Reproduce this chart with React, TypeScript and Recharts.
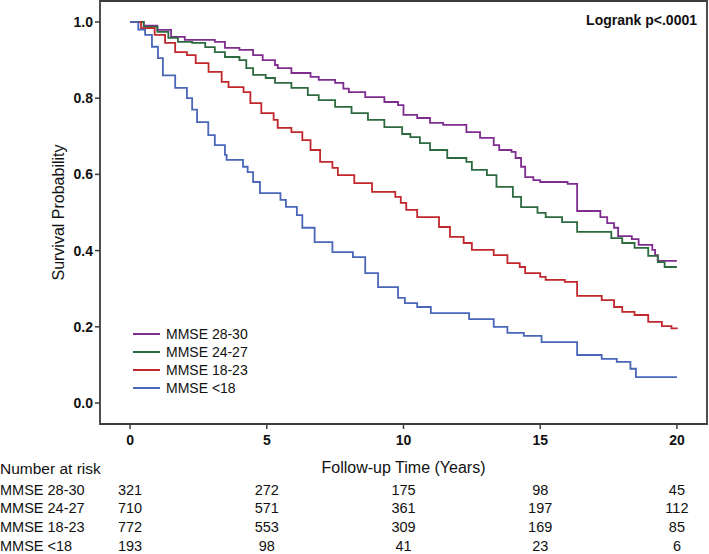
import React from 'react';
import {
  LineChart,
  Line,
  XAxis,
  YAxis,
  ReferenceArea,
  Legend,
} from 'recharts';

// ---------- Data ----------
const xTicks = [0, 5, 10, 15, 20];
const yTicks = [0, 0.2, 0.4, 0.6, 0.8, 1.0];

const mmse2830Times = [0, 0.5, 1.0, 1.5, 2.0, 3.1, 3.47, 4.0, 4.5, 4.85, 5.3, 5.4, 5.9, 6.6, 6.9, 7.5, 7.8, 8.0, 8.6, 9.3, 9.8, 10.0, 10.5, 10.97, 11.45, 12.3, 12.8, 13.3, 13.5, 13.95, 14.1, 14.3, 14.45, 14.75, 15.0, 16.0, 16.35, 17.2, 17.45, 17.7, 17.85, 18.35, 18.6, 19.1, 19.2, 19.3, 20.0];
const mmse2830Surv = [1.0, 0.99, 0.979, 0.961, 0.953, 0.948, 0.932, 0.927, 0.913, 0.9, 0.887, 0.879, 0.866, 0.856, 0.848, 0.84, 0.825, 0.816, 0.803, 0.79, 0.782, 0.756, 0.748, 0.735, 0.73, 0.711, 0.696, 0.677, 0.664, 0.659, 0.643, 0.62, 0.593, 0.585, 0.58, 0.575, 0.504, 0.488, 0.472, 0.46, 0.438, 0.43, 0.415, 0.402, 0.388, 0.373, 0.373];

const mmse2427Times = [0, 0.5, 1.0, 1.4, 1.75, 2.27, 2.75, 3.1, 3.47, 4.0, 4.25, 4.5, 4.96, 5.3, 5.9, 6.5, 6.9, 7.5, 8.1, 8.7, 9.3, 9.95, 10.25, 10.6, 10.97, 11.6, 12.3, 12.5, 13.05, 13.4, 14.0, 14.3, 14.9, 15.2, 15.8, 16.35, 17.6, 18.0, 18.45, 18.95, 19.3, 19.55, 20.0];
const mmse2427Surv = [1.0, 0.987, 0.974, 0.958, 0.948, 0.945, 0.934, 0.921, 0.908, 0.9, 0.879, 0.861, 0.853, 0.84, 0.827, 0.808, 0.795, 0.777, 0.761, 0.743, 0.724, 0.706, 0.698, 0.682, 0.664, 0.643, 0.633, 0.612, 0.598, 0.567, 0.541, 0.514, 0.499, 0.488, 0.475, 0.449, 0.433, 0.42, 0.407, 0.386, 0.37, 0.357, 0.357];

const mmse1823Times = [0, 0.4, 0.9, 1.28, 1.65, 2.08, 2.4, 2.87, 3.35, 3.6, 4.15, 4.4, 4.8, 5.25, 5.4, 5.9, 6.3, 6.6, 6.95, 7.4, 7.6, 8.2, 8.85, 9.7, 9.9, 10.1, 10.5, 11.3, 11.7, 12.2, 12.5, 13.3, 13.8, 14.25, 14.45, 15.0, 15.2, 15.9, 16.35, 17.25, 17.7, 18.0, 18.45, 18.95, 19.45, 19.8, 20.0];
const mmse1823Surv = [1.0, 0.984, 0.966, 0.945, 0.921, 0.913, 0.892, 0.869, 0.843, 0.829, 0.816, 0.787, 0.761, 0.743, 0.722, 0.711, 0.69, 0.664, 0.633, 0.617, 0.598, 0.577, 0.554, 0.541, 0.525, 0.507, 0.488, 0.462, 0.436, 0.42, 0.402, 0.388, 0.367, 0.357, 0.341, 0.331, 0.323, 0.318, 0.281, 0.27, 0.252, 0.239, 0.231, 0.213, 0.202, 0.196, 0.194];

const mmseLt18Times = [0, 0.3, 0.55, 0.8, 1.02, 1.2, 1.65, 2.08, 2.27, 2.45, 2.86, 3.1, 3.47, 3.53, 4.13, 4.3, 4.5, 4.75, 5.5, 5.7, 6.1, 6.3, 6.75, 7.4, 8.15, 8.6, 9.07, 9.8, 10.05, 10.5, 11.0, 12.4, 13.3, 13.8, 14.4, 15.05, 16.35, 17.25, 17.8, 18.3, 18.5, 20.0];
const mmseLt18Surv = [1.0, 0.98, 0.966, 0.935, 0.905, 0.86, 0.827, 0.8, 0.77, 0.737, 0.703, 0.677, 0.651, 0.638, 0.62, 0.606, 0.58, 0.551, 0.533, 0.515, 0.493, 0.46, 0.422, 0.396, 0.383, 0.341, 0.304, 0.276, 0.262, 0.252, 0.236, 0.22, 0.2, 0.184, 0.176, 0.16, 0.126, 0.116, 0.108, 0.09, 0.068, 0.068];

const groupNames = ['MMSE 28-30', 'MMSE 24-27', 'MMSE 18-23', 'MMSE <18'];
const groupColors = ['#7E2D8F', '#2D6A3F', '#C0282D', '#4A66B8'];

const riskTimes = [0, 5, 10, 15, 20];
const risk2830 = [321, 272, 175, 98, 45];
const risk2427 = [710, 571, 361, 197, 112];
const risk1823 = [772, 553, 309, 169, 85];
const riskLt18 = [193, 98, 41, 23, 6];

// ---------- Helpers ----------
const toPoints = (times: number[], surv: number[]) =>
  times.map((t, i) => ({ t, s: surv[i] }));

const series = [
  toPoints(mmse2830Times, mmse2830Surv),
  toPoints(mmse2427Times, mmse2427Surv),
  toPoints(mmse1823Times, mmse1823Surv),
  toPoints(mmseLt18Times, mmseLt18Surv),
];
const riskRows = [risk2830, risk2427, risk1823, riskLt18];
// carrier data (no drawn marks) so that each risk-table axis is bound to a series
const riskCarrier = riskTimes.map((t) => ({ t, s: null as number | null }));

const FONT = '"Liberation Sans", Arial, Helvetica, sans-serif';
const X_DOMAIN: [number, number] = [-1.1, 21.1];
const Y_DOMAIN: [number, number] = [-0.055, 1.055];
const AXIS_COLOR = '#3c3c3c';

const LegendContent = () => (
  <div style={{ fontFamily: FONT, fontSize: 14, color: '#111' }}>
    {groupNames.map((name, i) => (
      <div key={name} style={{ display: 'flex', alignItems: 'center', height: 18 }}>
        <svg width={27} height={4} style={{ marginRight: 6 }}>
          <line x1={0} y1={2} x2={27} y2={2} stroke={groupColors[i]} strokeWidth={2} />
        </svg>
        <span>{name}</span>
      </div>
    ))}
  </div>
);

export default function App() {
  return (
    <div style={{ position: 'absolute', left: 0, top: 0, fontFamily: FONT }}>
      <LineChart
        width={709}
        height={554}
        margin={{ top: 1, right: 2, left: 0, bottom: 0 }}
      >
        <XAxis
          xAxisId="main"
          dataKey="t"
          type="number"
          domain={X_DOMAIN}
          allowDataOverflow
          ticks={xTicks}
          tickFormatter={(v: number) => String(v)}
          axisLine={false}
          tickLine={{ stroke: AXIS_COLOR, strokeWidth: 1.5 }}
          tickSize={5}
          tickMargin={6}
          height={55}
          tick={{ fontSize: 14, fontWeight: 700, fill: '#111', fontFamily: FONT }}
          label={{
            value: 'Follow-up Time (Years)',
            content: (p: any) => {
              const vb = p.viewBox || {};
              return (
                <g fontFamily={FONT} fill="#111">
                  <text x={vb.x + vb.width / 2} y={vb.y + 49} textAnchor="middle" fontSize={16}>
                    Follow-up Time (Years)
                  </text>
                  <text x={0} y={vb.y + 50} textAnchor="start" fontSize={15.5}>
                    Number at risk
                  </text>
                </g>
              );
            },
          }}
        />
        {riskRows.map((row, r) => (
          <XAxis
            key={`risk-${r}`}
            xAxisId={`risk${r}`}
            dataKey="t"
            type="number"
            domain={X_DOMAIN}
            allowDataOverflow
            ticks={riskTimes}
            interval={0}
            tickFormatter={(v: number) => String(row[riskTimes.indexOf(v)])}
            axisLine={false}
            tickLine={false}
            tickSize={0}
            tickMargin={5.3}
            height={18.75}
            tick={{ fontSize: 14.5, fill: '#111', fontFamily: FONT }}
            label={{
              value: groupNames[r],
              content: (p: any) => {
                const vb = p.viewBox || {};
                return (
                  <text x={0} y={vb.y + 15.6} textAnchor="start" fontSize={14.5} fill="#111" fontFamily={FONT}>
                    {groupNames[r]}
                  </text>
                );
              },
            }}
          />
        ))}
        <YAxis
          type="number"
          domain={Y_DOMAIN}
          allowDataOverflow
          ticks={yTicks}
          tickFormatter={(v: number) => v.toFixed(1)}
          axisLine={false}
          tickLine={{ stroke: AXIS_COLOR, strokeWidth: 1.5 }}
          tickSize={5}
          tickMargin={2}
          width={100}
          tick={{ fontSize: 14, fontWeight: 700, fill: '#111', fontFamily: FONT }}
          label={{
            value: 'Survival Probability',
            content: (p: any) => {
              const vb = p.viewBox || {};
              const cx = vb.x + 58;
              const cy = vb.y + vb.height / 2;
              return (
                <text
                  x={cx}
                  y={cy}
                  transform={`rotate(-90, ${cx}, ${cy})`}
                  textAnchor="middle"
                  dominantBaseline="central"
                  fontSize={16}
                  fill="#111"
                  fontFamily={FONT}
                >
                  Survival Probability
                </text>
              );
            },
          }}
        />
        <ReferenceArea
          xAxisId="main"
          x1={X_DOMAIN[0]}
          x2={X_DOMAIN[1]}
          y1={Y_DOMAIN[0]}
          y2={Y_DOMAIN[1]}
          fill="none"
          fillOpacity={0}
          stroke={AXIS_COLOR}
          strokeWidth={1.8}
          ifOverflow="visible"
          label={{
            value: 'Logrank p<.0001',
            content: (p: any) => {
              const vb = p.viewBox || {};
              return (
                <text
                  x={vb.x + vb.width - 10}
                  y={vb.y + 24}
                  textAnchor="end"
                  fontSize={14}
                  fontWeight={700}
                  fill="#111"
                  fontFamily={FONT}
                >
                  Logrank p&lt;.0001
                </text>
              );
            },
          }}
        />
        {riskRows.map((_, r) => (
          <Line
            key={`carrier-${r}`}
            xAxisId={`risk${r}`}
            data={riskCarrier}
            dataKey="s"
            stroke="none"
            dot={false}
            activeDot={false}
            legendType="none"
            isAnimationActive={false}
          />
        ))}
        {series.map((pts, i) => (
          <Line
            key={groupNames[i]}
            xAxisId="main"
            data={pts}
            dataKey="s"
            name={groupNames[i]}
            type="stepAfter"
            stroke={groupColors[i]}
            strokeWidth={1.8}
            dot={false}
            activeDot={false}
            isAnimationActive={false}
          />
        ))}
        <Legend
          layout="vertical"
          align="center"
          verticalAlign="middle"
          content={<LegendContent />}
          wrapperStyle={{ left: 133, top: 325, width: 'auto' }}
        />
      </LineChart>
    </div>
  );
}
